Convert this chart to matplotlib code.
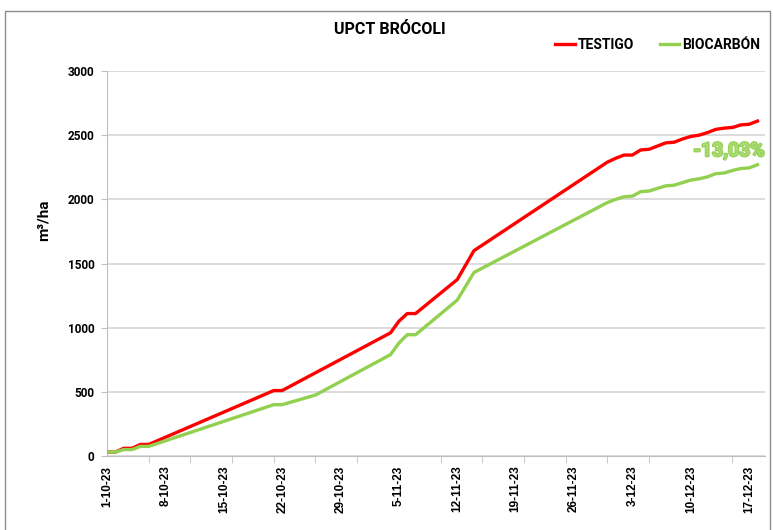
import numpy as np
import pandas as pd
import matplotlib
matplotlib.use("Agg")
import matplotlib.pyplot as plt
import matplotlib.patheffects as pe
from matplotlib.patches import Rectangle

# datos (m3/ha acumulados)
testigo_fechas = ["2023-10-01", "2023-10-02", "2023-10-03", "2023-10-04", "2023-10-05",
                  "2023-10-06", "2023-10-21", "2023-10-22", "2023-11-04", "2023-11-05",
                  "2023-11-06", "2023-11-07", "2023-11-12", "2023-11-14", "2023-11-30",
                  "2023-12-01", "2023-12-02", "2023-12-03", "2023-12-04", "2023-12-05",
                  "2023-12-06", "2023-12-07", "2023-12-08", "2023-12-09", "2023-12-10",
                  "2023-12-11", "2023-12-12", "2023-12-13", "2023-12-14", "2023-12-15",
                  "2023-12-16", "2023-12-17", "2023-12-18"]
testigo = [30, 30, 60, 60, 90, 90, 510, 510, 960, 1050, 1110, 1110, 1375, 1600, 2290,
           2320, 2345, 2345, 2385, 2390, 2415, 2440, 2445, 2470, 2490, 2500, 2520, 2545,
           2555, 2560, 2580, 2585, 2610]

biocarbon_fechas = ["2023-10-01", "2023-10-02", "2023-10-03", "2023-10-04", "2023-10-05",
                    "2023-10-06", "2023-10-21", "2023-10-22", "2023-10-26", "2023-11-04",
                    "2023-11-05", "2023-11-06", "2023-11-07", "2023-11-12", "2023-11-14",
                    "2023-11-30", "2023-12-01", "2023-12-02", "2023-12-03", "2023-12-04",
                    "2023-12-05", "2023-12-06", "2023-12-07", "2023-12-08", "2023-12-09",
                    "2023-12-10", "2023-12-11", "2023-12-12", "2023-12-13", "2023-12-14",
                    "2023-12-15", "2023-12-16", "2023-12-17", "2023-12-18"]
biocarbon = [30, 30, 50, 50, 75, 75, 400, 400, 475, 790, 880, 945, 945, 1215, 1430, 1975,
             2000, 2020, 2025, 2060, 2065, 2085, 2105, 2110, 2130, 2150, 2160, 2175, 2200,
             2205, 2225, 2240, 2245, 2270]

etiquetas_x = ["1-10-23", "8-10-23", "15-10-23", "22-10-23", "29-10-23", "5-11-23",
               "12-11-23", "19-11-23", "26-11-23", "3-12-23", "10-12-23", "17-12-23"]
diferencia = "-13,03%"

ROJO = "#FF0000"
VERDE = "#92D050"
GRIS = "#D9D9D9"

plt.rcParams['font.family'] = ['Roboto', 'DejaVu Sans']

inicio = pd.Timestamp("2023-10-01")
t_x = (pd.to_datetime(testigo_fechas) - inicio).days
b_x = (pd.to_datetime(biocarbon_fechas) - inicio).days

fig = plt.figure(figsize=(7.73, 5.30), dpi=100)
ax = fig.add_axes([107 / 773, 1 - 456 / 530, 658 / 773, (456 - 71) / 530])

ax.plot(t_x, testigo, color=ROJO, lw=2.4, label="TESTIGO", zorder=3)
ax.plot(b_x, biocarbon, color=VERDE, lw=2.4, label="BIOCARBÓN", zorder=3)

ax.set_xlim(0, 78.9)
ax.set_ylim(0, 3000)
ax.set_yticks(np.arange(0, 3001, 500))
ax.grid(axis="y", color=GRIS, lw=1.3)
ax.set_axisbelow(True)

# etiquetas cada 7 dias, marcas cada 5 dias (como en excel)
ax.set_xticks(np.arange(len(etiquetas_x)) * 7)
ax.set_xticklabels(etiquetas_x, rotation=90, fontsize=8.5, fontweight="bold",
                   family=["Liberation Sans", "DejaVu Sans"])
ax.tick_params(axis="x", length=0, pad=7)
ax.set_xticks(np.arange(0, 79, 5), minor=True)
ax.tick_params(axis="x", which="minor", length=5, color="#BFBFBF")
ax.tick_params(axis="y", length=4, color="#BFBFBF", labelsize=8.5, pad=5)
for lab in ax.get_yticklabels():
    lab.set_fontweight("bold")

for s in ["top", "right"]:
    ax.spines[s].set_visible(False)
ax.spines["left"].set_color("#BFBFBF")
ax.spines["bottom"].set_color("#BFBFBF")

ax.set_ylabel("m³/ha", fontsize=11, fontweight="bold")
ax.yaxis.set_label_coords(-0.085, 0.613)

txt = ax.text(74.6, 2375, diferencia, color="#A9DB72", fontsize=14, fontweight="bold",
              ha="center", va="center", zorder=4)
txt.set_path_effects([pe.withStroke(linewidth=1.5, foreground=VERDE)])

fig.text(390 / 773, 1 - 29 / 530, "UPCT BRÓCOLI", ha="center", va="center",
         fontsize=11.5, fontweight="bold")

fig.legend(loc="center right", bbox_to_anchor=(766 / 773, 1 - 45 / 530), ncol=2,
           frameon=False, prop={"weight": "bold", "size": 10}, handlelength=1.4,
           handletextpad=0.25, columnspacing=1.8, borderaxespad=0)

fig.patches.append(Rectangle((5 / 773, -0.01), 765 / 773, 1 - 11 / 530 + 0.01,
                             transform=fig.transFigure, fill=False, ec="#8C8C8C", lw=1))

fig.savefig("out.png", dpi=100)
